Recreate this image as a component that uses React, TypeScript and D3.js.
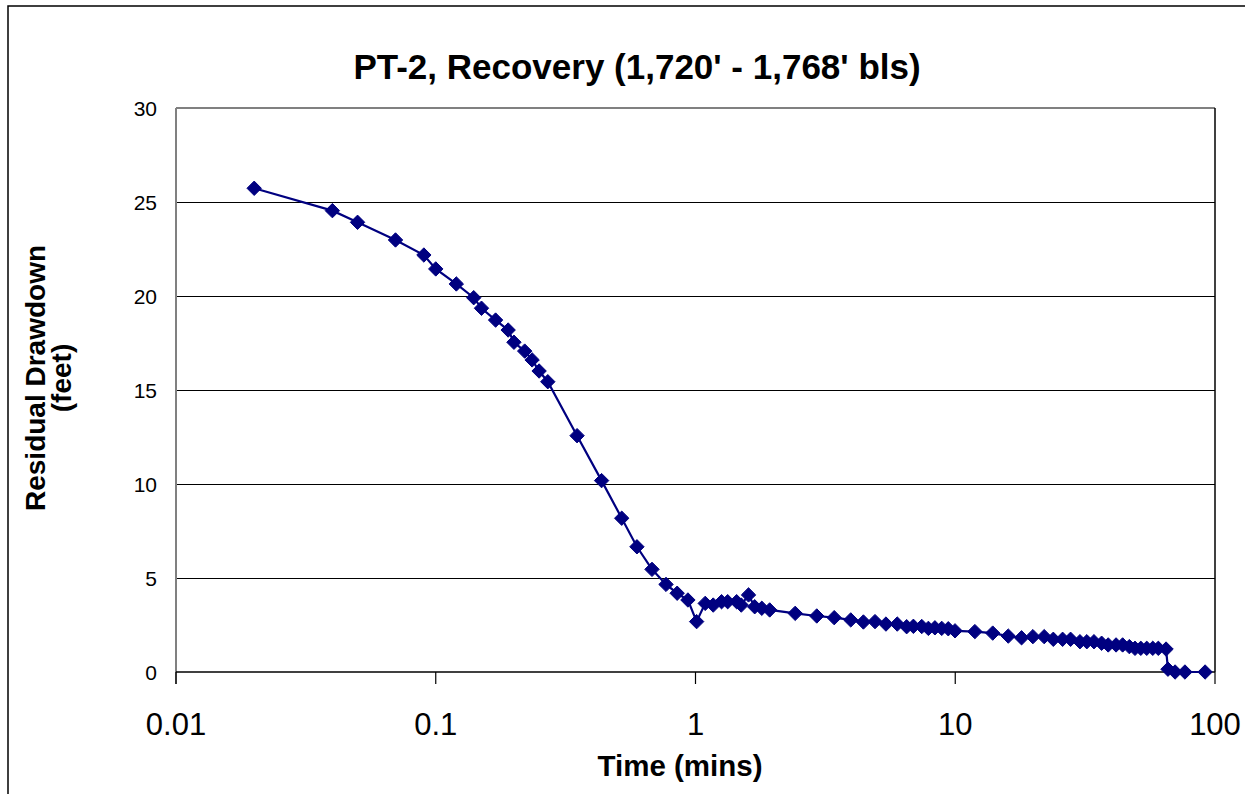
import React from "react";
import * as d3 from "d3";

const times = [0.02, 0.04, 0.05, 0.07, 0.09, 0.1, 0.12, 0.14, 0.15, 0.17, 0.19, 0.2, 0.22, 0.235, 0.25, 0.27,
  0.35, 0.435, 0.52, 0.595, 0.68, 0.77, 0.85, 0.935, 1.01, 1.09, 1.17, 1.26, 1.33, 1.44, 1.5, 1.6, 1.69, 1.8, 1.93,
  2.42, 2.93, 3.42, 3.96, 4.43, 4.91, 5.41, 5.98, 6.5, 6.9, 7.43, 7.88, 8.35, 8.87, 9.4, 9.98,
  11.9, 13.94, 16, 18, 19.9, 22, 23.85, 25.9, 27.8, 30.2, 32.1, 34.2, 36.6, 38.8, 41.6, 44.1, 46.8, 49.2, 51.8,
  54.6, 57.6, 60.5, 64.8, 65.9, 70.2, 76.6, 91.6];

const drawdown = [25.73, 24.54, 23.92, 22.98, 22.18, 21.44, 20.64, 19.91, 19.35, 18.72, 18.19, 17.54, 17.07, 16.6, 16.01, 15.44,
  12.57, 10.18, 8.18, 6.66, 5.46, 4.66, 4.19, 3.83, 2.68, 3.65, 3.56, 3.74, 3.74, 3.74, 3.56, 4.1, 3.47, 3.39, 3.3,
  3.12, 2.98, 2.89, 2.77, 2.66, 2.68, 2.55, 2.55, 2.41, 2.43, 2.42, 2.32, 2.35, 2.32, 2.3, 2.19,
  2.15, 2.07, 1.91, 1.82, 1.88, 1.88, 1.74, 1.74, 1.74, 1.61, 1.61, 1.61, 1.53, 1.44, 1.44, 1.44, 1.35, 1.26, 1.26,
  1.26, 1.26, 1.26, 1.22, 0.15, 0, 0, 0];

const xTicks = [0.01, 0.1, 1, 10, 100];
const xTickLabels = ["0.01", "0.1", "1", "10", "100"];
const yTicks = [0, 5, 10, 15, 20, 25, 30];

const title = "PT-2, Recovery (1,720' - 1,768' bls)";
const xTitle = "Time (mins)";
const yTitle1 = "Residual Drawdown";
const yTitle2 = "(feet)";

export default function App() {
  const W = 1245, H = 794;
  const left = 176, right = 1215, top = 108, bottom = 672;
  const x = d3.scaleLog().domain([0.01, 100]).range([left, right]);
  const y = d3.scaleLinear().domain([0, 30]).range([bottom, top]);
  const pts = times.map((t, i) => [t, drawdown[i]] as [number, number]);
  const line = d3.line<[number, number]>().x(d => x(d[0])).y(d => y(d[1]));
  const font = "Arial, 'Liberation Sans', sans-serif";
  const navy = "#000080";
  const m = 7.2;
  return (
    <svg width={W} height={H} style={{ position: "absolute", left: 0, top: 0 }} fontFamily={font}>
      <rect x={0} y={0} width={W} height={H} fill="#fff" />
      <rect x={8} y={6} width={W + 20} height={H + 20} fill="none" stroke="#000" strokeWidth={1.5} />
      {/* gridlines */}
      {yTicks.filter(v => v > 0 && v < 30).map(v => (
        <line key={v} x1={left} x2={right} y1={Math.round(y(v)) + 0.5} y2={Math.round(y(v)) + 0.5} stroke="#000" strokeWidth={1} shapeRendering="crispEdges" />
      ))}
      {/* plot border */}
      <line x1={left} x2={right} y1={y(30)} y2={y(30)} stroke="#808080" strokeWidth={2} />
      <line x1={right} x2={right} y1={y(30)} y2={bottom} stroke="#000" strokeWidth={1.5} />
      <line x1={left} x2={left} y1={y(30)} y2={bottom + 12} stroke="#808080" strokeWidth={2} />
      <line x1={left} x2={right} y1={bottom} y2={bottom} stroke="#000" strokeWidth={1.5} />
      {xTicks.map(v => (
        <line key={v} x1={x(v)} x2={x(v)} y1={bottom} y2={bottom + 12} stroke="#000" strokeWidth={1.2} />
      ))}
      {/* tick labels */}
      {yTicks.map(v => (
        <text key={v} x={157} y={y(v)} dy="0.36em" textAnchor="end" fontSize={21} fill="#000">{v}</text>
      ))}
      {xTicks.map((v, i) => (
        <text key={v} x={x(v)} y={735} textAnchor="middle" fontSize={31} fill="#000">{xTickLabels[i]}</text>
      ))}
      {/* data */}
      <path d={line(pts) || ""} fill="none" stroke={navy} strokeWidth={2.2} />
      {pts.map((p, i) => (
        <path key={i} transform={`translate(${x(p[0])},${y(p[1])})`} d={`M0,${-m}L${m},0L0,${m}L${-m},0Z`} fill={navy} stroke={navy} strokeWidth={1} />
      ))}
      {/* titles */}
      <text x={637} y={79} textAnchor="middle" fontSize={35} fontWeight="bold" fill="#000">{title}</text>
      <text x={680} y={776} textAnchor="middle" fontSize={29.5} fontWeight="bold" fill="#000">{xTitle}</text>
      <g transform="translate(45,378) rotate(-90)">
        <text x={0} y={0} textAnchor="middle" fontSize={28} fontWeight="bold" fill="#000">{yTitle1}</text>
      </g>
      <g transform="translate(71,378) rotate(-90)">
        <text x={0} y={0} textAnchor="middle" fontSize={28} fontWeight="bold" fill="#000">{yTitle2}</text>
      </g>
    </svg>
  );
}
